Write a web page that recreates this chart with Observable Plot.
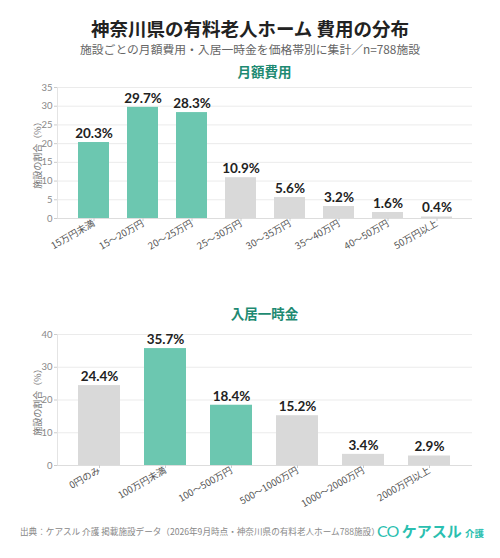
<!DOCTYPE html>
<html><head><meta charset="utf-8">
<script src="https://cdn.jsdelivr.net/npm/d3@7"></script>
<script src="https://cdn.jsdelivr.net/npm/@observablehq/plot@0.6"></script>
<style>
body{margin:0;background:#fff;font-family:"Noto Sans CJK JP","Noto Sans",sans-serif;}
#wrap{position:relative;width:500px;height:558px;overflow:hidden;background:#fff;}
.t{position:absolute;white-space:nowrap;}
#title{left:0;width:500px;top:19px;line-height:18px;text-align:center;font-size:18.5px;font-weight:700;color:#222;}
#sub{left:0;width:500px;top:43px;line-height:12px;text-align:center;font-size:11.8px;color:#666;}
.sec{left:57px;width:415px;text-align:center;font-size:13.5px;line-height:14px;font-weight:700;color:#1e8a72;}
#sec1{top:64px;}
#sec2{top:306px;}
#c1{position:absolute;left:0;top:80px;}
#c2{position:absolute;left:0;top:327px;}
#cap{left:20px;top:526px;line-height:10px;font-size:8.6px;color:#888;}
#logo{left:377px;top:522px;line-height:18px;font-size:15px;font-weight:700;color:#2bbfb0;}
#logo .ic{font-weight:400;font-family:Lato,"Noto Sans",sans-serif;font-size:16px;letter-spacing:-1px;}
#logo small{font-size:9.5px;}
</style></head><body>
<div id="wrap">
<div class="t" id="title">神奈川県の有料老人ホーム 費用の分布</div>
<div class="t" id="sub">施設ごとの月額費用・入居一時金を価格帯別に集計／n=788施設</div>
<div class="t sec" id="sec1">月額費用</div>
<div id="c1"></div>
<div class="t sec" id="sec2">入居一時金</div>
<div id="c2"></div>
<div class="t" id="cap">出典：ケアスル 介護 掲載施設データ（2026年9月時点・神奈川県の有料老人ホーム788施設）</div>
<div class="t" id="logo"><span class="ic">CO</span> ケアスル <small>介護</small></div>
</div>
<script>
const monthlyCats = ["15万円未満","15～20万円","20～25万円","25～30万円","30～35万円","35～40万円","40～50万円","50万円以上"];
const monthlyVals = [20.3, 29.7, 28.3, 10.9, 5.6, 3.2, 1.6, 0.4];
const monthlyHi = [true, true, true, false, false, false, false, false];
const monthlyTicks = [0,5,10,15,20,25,30,35];

const entryCats = ["0円のみ","100万円未満","100～500万円","500～1000万円","1000～2000万円","2000万円以上"];
const entryVals = [24.4, 35.7, 18.4, 15.2, 3.4, 2.9];
const entryHi = [false, true, true, false, false, false];
const entryTicks = [0,10,20,30,40];

const GREEN = "#6cc7b0", GRAY = "#d9d9d9";

function chart(cats, vals, hi, ticks, ymax, padIn, padOut) {
  const data = cats.map((c,i)=>({c, v: vals[i], hi: hi[i]}));
  return Plot.plot({
    width: 500, height: 190,
    marginLeft: 57, marginRight: 28, marginTop: 7, marginBottom: 52,
    style: {fontFamily: '"Noto Sans CJK JP","Noto Sans",sans-serif', fontSize: "9px", color: "#888", background: "#fff"},
    x: {domain: cats, paddingInner: padIn, paddingOuter: padOut, label: null},
    y: {domain: [0, ymax], label: null},
    marks: [
      Plot.gridY(ticks, {stroke: "#ebebeb", strokeOpacity: 1}),
      Plot.frame({anchor: "left", stroke: "#e4e4e4"}),
      Plot.ruleY([0], {stroke: "#ddd"}),
      Plot.barY(data, {x: "c", y: "v", fill: d => d.hi ? GREEN : GRAY}),
      Plot.text(data, {x: "c", y: "v", text: d => d.v.toFixed(1) + "%", dy: -9, fontSize: 13.5, fontWeight: 700, fill: "#222", fontFamily: 'Lato,"Noto Sans",sans-serif'}),
      Plot.axisY(ticks, {tickSize: 3, tickPadding: 2, stroke: "#ccc", fill: "#888", fontSize: 9.5, label: null, fontFamily: 'Lato,"Noto Sans",sans-serif'}),
      Plot.axisX({tickSize: 3, stroke: "#ccc", tickRotate: -30, fill: "#555", fontSize: 9.5, label: null, tickPadding: 1}),
      Plot.text(["施設の割合（%）"], {frameAnchor: "left", textAnchor: "middle", dx: -19, rotate: -90, fill: "#777", fontSize: 9})
    ]
  });
}

document.getElementById("c1").append(chart(monthlyCats, monthlyVals, monthlyHi, monthlyTicks, 35, 0.37, 0.39));
document.getElementById("c2").append(chart(entryCats, entryVals, entryHi, entryTicks, 40, 0.36, 0.28));
</script>
</body></html>
